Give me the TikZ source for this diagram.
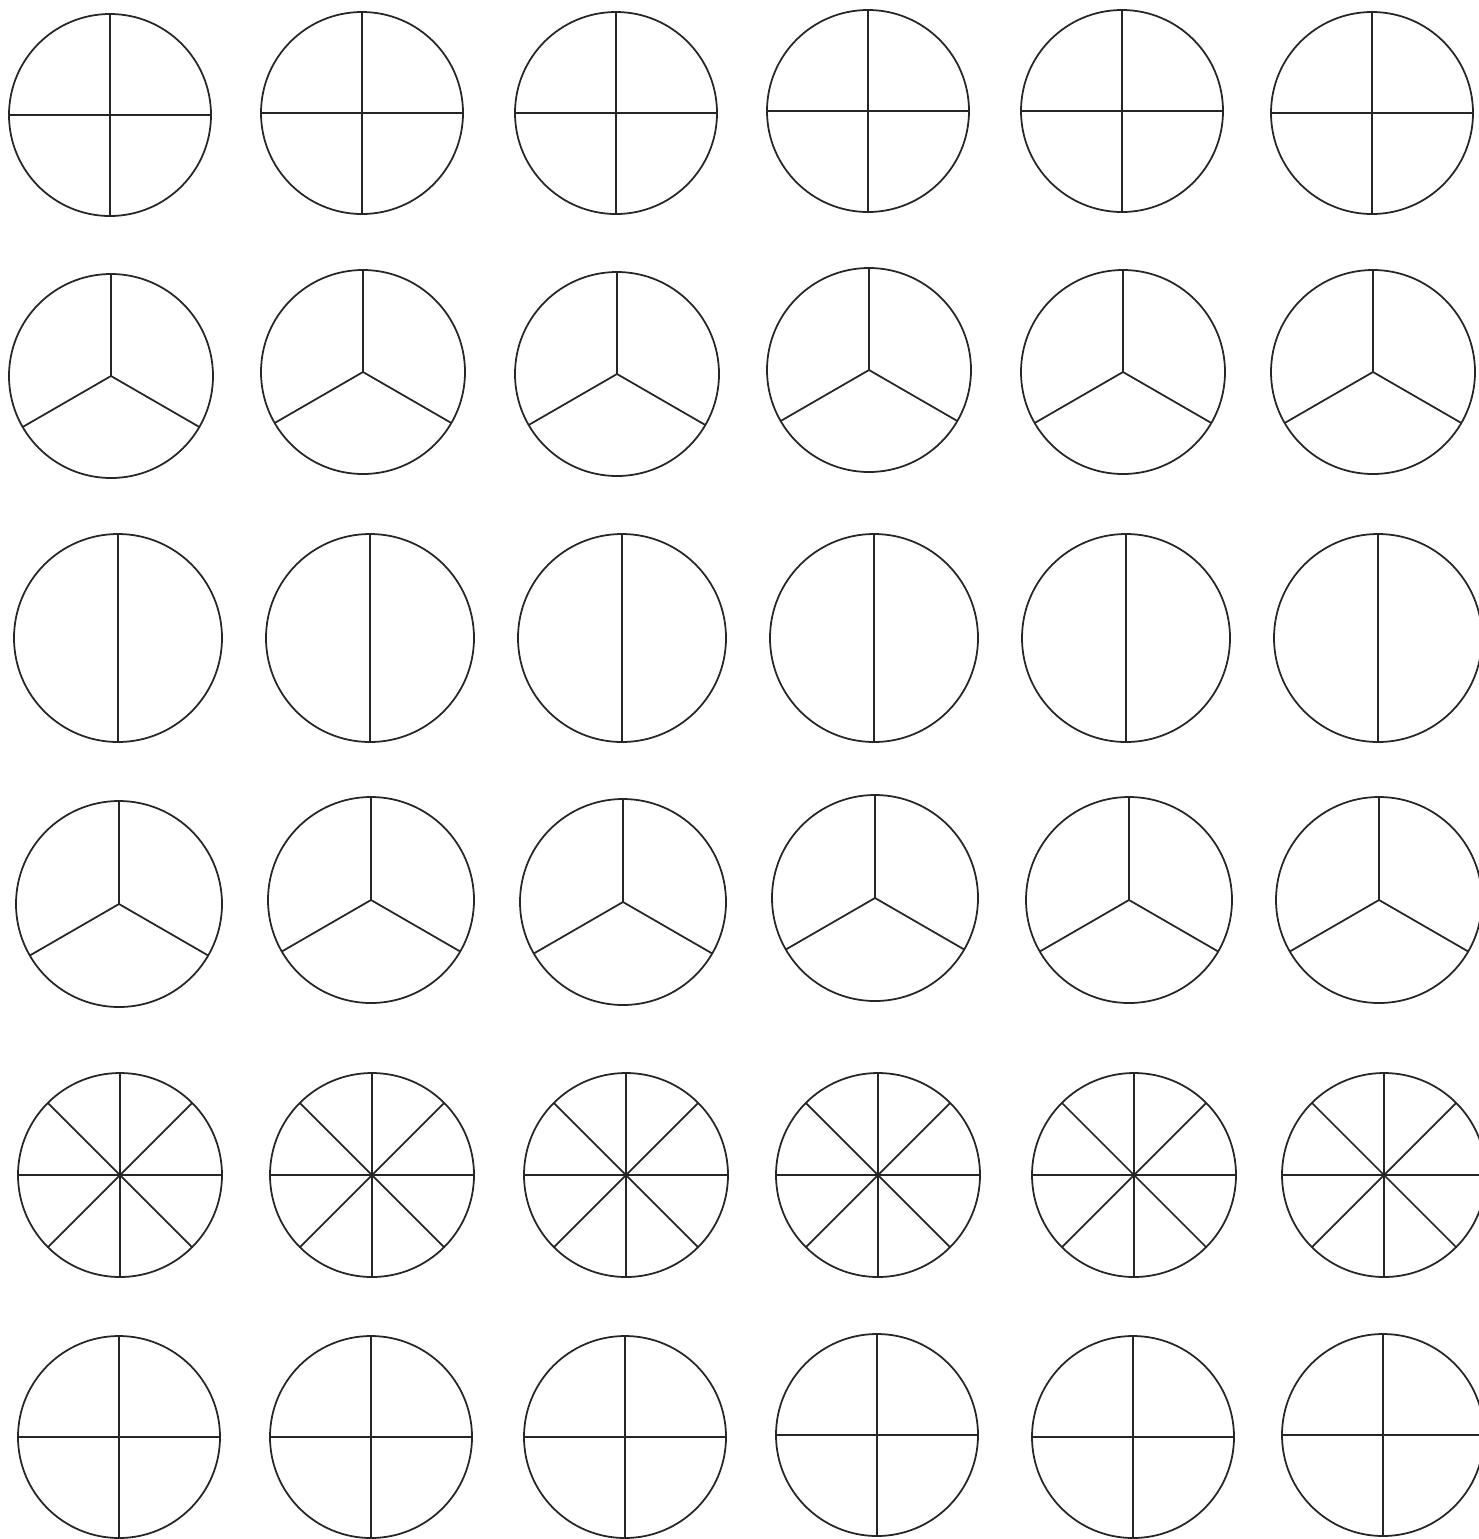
\documentclass[tikz,border=0pt]{standalone}
\begin{document}
\begin{tikzpicture}[x=0.01cm,y=-0.01cm,
  wheel/.style={draw=black!85,line width=0.5pt}]
\useasboundingbox (0,0) rectangle (1479,1539);
% four parts
\foreach \cx/\cy/\r in {110/115/101,362/113/101,616/113/101,868/111/101,1122/111/101,1372/113/101,
                        119/1437/101,371/1437/101,625/1437/101,877/1435/101,1133/1437/101,1383/1435/101}{
  \draw[wheel] (\cx,\cy) circle (\r);
  \draw[wheel] (\cx,\cy) ++(90:\r) -- ++(270:2*\r);
  \draw[wheel] (\cx,\cy) ++(0:\r) -- ++(180:2*\r);
}
% three parts
\foreach \cx/\cy/\r in {111/376/102,363/372/102,617/374/102,869/370/102,1123/372/102,1373/372/102,
                        119/904/103,371/900/103,623/902/103,875/898/103,1129/900/103,1379/900/103}{
  \draw[wheel] (\cx,\cy) circle (\r);
  \foreach \a in {90,210,330}{
    \draw[wheel] (\cx,\cy) -- ++(-\a:\r);
  }
}
% two parts
\foreach \cx in {118,370,622,874,1126,1378}{
  \draw[wheel] (\cx,638) circle (104);
  \draw[wheel] (\cx,534) -- (\cx,742);
}
% eight parts
\foreach \cx in {120,372,626,878,1134,1384}{
  \draw[wheel] (\cx,1175) circle (102);
  \foreach \a in {0,45,...,315}{
    \draw[wheel] (\cx,1175) -- ++(\a:102);
  }
}
\end{tikzpicture}
\end{document}
